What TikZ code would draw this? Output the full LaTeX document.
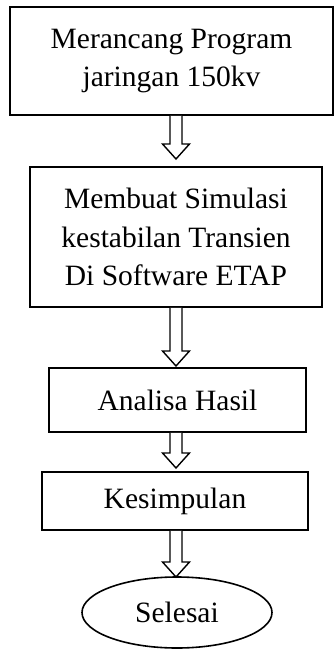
\documentclass[tikz,border=0pt]{standalone}
\usepackage{fontspec}
\setmainfont{Liberation Serif}
\usetikzlibrary{shapes.geometric,calc}

\tikzset{
  stepbox/.style={draw, line width=1.6pt, rectangle, align=center,
    inner sep=0pt, font=\fontsize{29.5}{38.5}\selectfont},
  endoval/.style={draw, line width=1.6pt, ellipse, inner sep=0pt,
    font=\fontsize{29.5}{38.5}\selectfont},
  arrowline/.style={draw, line width=1.4pt, fill=white, line join=miter},
}

% hollow block arrow from the bottom of node #1 down to coordinate #2
\newcommand\blockarrow[2]{%
  \draw[arrowline] let \p1=(#1.south), \p2=(#2) in
    (\x2-6pt,\y1) -- (\x2-6pt,\y2+15pt) -- (\x2-13.5pt,\y2+15pt) --
    (\x2,\y2) -- (\x2+13.5pt,\y2+15pt) -- (\x2+6pt,\y2+15pt) -- (\x2+6pt,\y1);
}

\begin{document}
\begin{tikzpicture}[x=1pt,y=-1pt]
  \useasboundingbox (0,0) rectangle (334,649);

  \node[stepbox, minimum width=323pt, minimum height=108pt] (plan) at (171.5,61)
    {Merancang Program\\jaringan 150kv};
  \node[stepbox, minimum width=292pt, minimum height=140pt] (sim) at (176,237)
    {Membuat Simulasi\\kestabilan Transien\\Di Software ETAP};
  \node[stepbox, minimum width=257pt, minimum height=64pt] (anal) at (177.5,400)
    {Analisa Hasil};
  \node[stepbox, minimum width=266pt, minimum height=58pt] (concl) at (175,501)
    {Kesimpulan};
  \node[endoval, minimum width=190pt, minimum height=71pt] (done) at (177,612.5)
    {Selesai};

  \coordinate (tip1) at (176,159);
  \coordinate (tip2) at (176,366);
  \coordinate (tip3) at (176,468);
  \coordinate (tip4) at (176,577);

  \blockarrow{plan}{tip1}
  \blockarrow{sim}{tip2}
  \blockarrow{anal}{tip3}
  \blockarrow{concl}{tip4}
\end{tikzpicture}
\end{document}
